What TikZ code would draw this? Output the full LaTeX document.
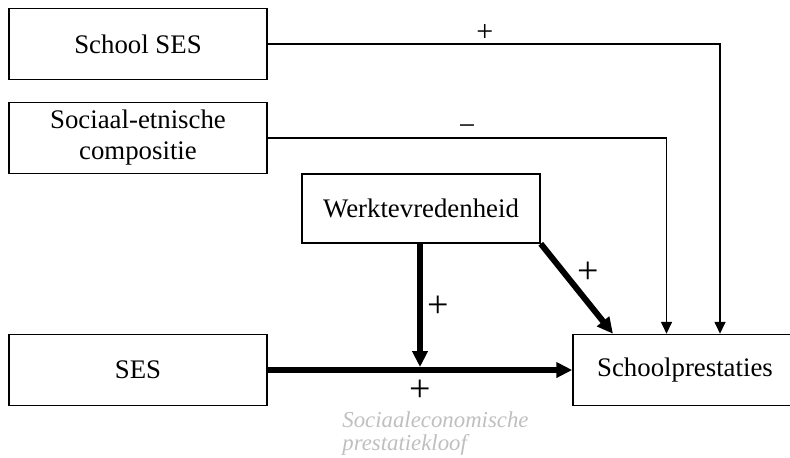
\documentclass[tikz,border=0pt]{standalone}
\usepackage{fontspec}
\setmainfont{Liberation Serif}
\usetikzlibrary{arrows.meta}

\begin{document}
\begin{tikzpicture}[
  x=0.5pt, y=-0.5pt,
  every node/.style={
    font=\fontsize{13.4}{15.5}\selectfont,
  },
  box/.style={
    draw, line width=0.75pt, align=center, inner sep=0pt,
    minimum width=129pt, minimum height=35.5pt
  },
  thinarrow/.style={
    line width=0.8pt, -{Triangle[length=6pt,width=5.5pt]}
  },
  thickarrow/.style={
    line width=3pt, -{Triangle[length=8pt,width=7.5pt]}
  },
  sign/.style={font=\fontsize{15}{16}\selectfont, inner sep=1pt},
  bigsign/.style={font=\fontsize{19}{20}\selectfont, inner sep=0pt}
  ]
  \useasboundingbox (0,0) rectangle (790,457);
  \node[box] (schoolses) at (138,44) {School SES};
  \node[box] (compositie) at (138,138) {Sociaal-etnische\\compositie};
  \node[box, minimum width=119pt, minimum height=34.5pt] (werk) at (421,208.5) {Werktevredenheid};
  \node[box] (ses) at (138,370) {SES};
  \node[box, minimum width=112pt] (prest) at (685,370) {Schoolprestaties};
  \node[anchor=north west, align=left, text=gray!50, inner sep=0pt,
    font=\fontsize{11.4}{11.5}\itshape] (kloof) at (342,411)
    {Sociaaleconomische\\prestatiekloof};

  \draw[thinarrow] (schoolses.east) -| ([xshift=17.5pt]prest.north)
    node[sign, above, pos=0.24] {+};
  \draw[thinarrow] (compositie.east) -| ([xshift=-9.25pt]prest.north)
    node[sign, above, pos=0.25] {−};
  \draw[thickarrow] (werk.south east) -- ([xshift=-36pt]prest.north)
    node[bigsign, above right, midway, xshift=-1pt, yshift=1pt] {+};
  \draw[thickarrow, shorten >=1.5pt] ([xshift=-0.5pt]werk.south) -- ([xshift=-0.5pt]werk.south |- ses.east)
    node[bigsign, right, midway, xshift=2pt] {+};
  \draw[thickarrow] (ses.east) -- (prest.west)
    node[bigsign, below, midway, yshift=-3.5pt] {+};
\end{tikzpicture}
\end{document}
